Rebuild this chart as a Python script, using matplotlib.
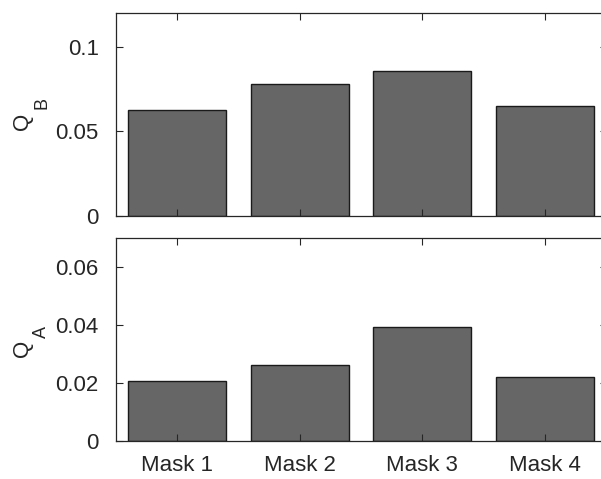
import matplotlib
matplotlib.use("Agg")
import matplotlib.pyplot as plt

plt.rcParams['font.family'] = ['Liberation Sans', 'DejaVu Sans']

categories = ["Mask 1", "Mask 2", "Mask 3", "Mask 4"]
q_b = [0.0629, 0.0781, 0.0860, 0.0651]
q_a = [0.0207, 0.0261, 0.0394, 0.0222]

b_ticks = [0, 0.05, 0.1]
b_ticklabels = ["0", "0.05", "0.1"]
a_ticks = [0, 0.02, 0.04, 0.06]
a_ticklabels = ["0", "0.02", "0.04", "0.06"]

W, H = 601, 479
fig = plt.figure(figsize=(W / 100, H / 100), dpi=100)

ink = "#262626"
face = "#666666"
left = 115.5 / W
width = 491 / W

ax_b = fig.add_axes([left, 1 - 216 / H, width, (216 - 13) / H])
ax_a = fig.add_axes([left, 1 - 441.3 / H, width, (441.3 - 238) / H])

x = list(range(1, len(categories) + 1))


def style(ax, values, ticks, ticklabels, ylim, show_x):
    ax.bar(x, values, width=0.8, color=face, edgecolor="#1a1a1a", linewidth=1.0)
    ax.set_xlim(0.5, 4.5)
    ax.set_ylim(*ylim)
    ax.set_yticks(ticks)
    ax.set_yticklabels(ticklabels)
    ax.set_xticks(x)
    if show_x:
        ax.set_xticklabels(categories)
    else:
        ax.set_xticklabels([])
    for s in ax.spines.values():
        s.set_color(ink)
        s.set_linewidth(0.9)
    ax.tick_params(direction="in", length=5, width=0.8, color=ink,
                   labelcolor=ink, labelsize=16, top=True, right=True)
    ax.tick_params(axis="y", pad=12)
    ax.tick_params(axis="x", pad=10)


def ylabel(main, sub, q_base_px, q_mid_px, s_base_px, s_mid_px):
    # rotated "Q" with a dropped subscript letter, positioned in pixels
    fig.text(q_base_px / W, 1 - q_mid_px / H, main, rotation=90,
             rotation_mode="anchor", ha="center", va="baseline",
             fontsize=16, color=ink)
    fig.text(s_base_px / W, 1 - s_mid_px / H, sub, rotation=90,
             rotation_mode="anchor", ha="center", va="baseline",
             fontsize=13, color=ink)


style(ax_b, q_b, b_ticks, b_ticklabels, (0, 0.12), False)
style(ax_a, q_a, a_ticks, a_ticklabels, (0, 0.07), True)

ylabel("Q", "B", 28.5, 121.5, 46, 103)
ylabel("Q", "A", 28.5, 348, 46, 331.5)

fig.savefig("out.png", dpi=100)
